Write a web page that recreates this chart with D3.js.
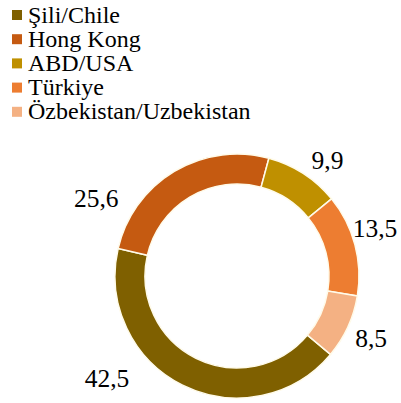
<!DOCTYPE html>
<html lang="tr">
<head>
<meta charset="utf-8"/>
<title>Donut</title>
<script src="https://d3js.org/d3.v7.min.js"></script>
<style>
  body { margin: 0; background: #fff; }
  text { font-family: "Liberation Serif", "Times New Roman", serif; fill: #000; }
</style>
</head>
<body>
<svg id="chart" width="401" height="403"></svg>
<script>
// data
var countries = ["Şili/Chile", "Hong Kong", "ABD/USA", "Türkiye", "Özbekistan/Uzbekistan"];
var shares = [42.5, 25.6, 9.9, 13.5, 8.5];
var colors = ["#7f6000", "#c55a11", "#bf9000", "#ed7d31", "#f4b183"];

// label placement (degrees clockwise from top, radius) - labels were dragged in the original
var labelAngle = [232, 299, 38, 71, 115];
var labelRadius = [165, 161, 147, 146, 148];

var svg = d3.select("#chart");
var cx = 237, cy = 276, outerR = 122, innerR = 92;

var pie = d3.pie().sort(null)
    .startAngle(130 * Math.PI / 180)
    .endAngle(490 * Math.PI / 180);
var arc = d3.arc().innerRadius(innerR).outerRadius(outerR);

var g = svg.append("g").attr("transform", "translate(" + cx + "," + cy + ")");

var arcs = pie(shares);
g.selectAll("path")
  .data(arcs)
  .enter().append("path")
    .attr("d", arc)
    .attr("fill", function(d, i) { return colors[i]; })
    .attr("stroke", "#fffbea")
    .attr("stroke-width", 1.5);

var fmt = function(v) { return d3.format(".1f")(v).replace(".", ","); };

g.selectAll("text.lbl")
  .data(arcs)
  .enter().append("text")
    .attr("class", "lbl")
    .attr("x", function(d, i) { return labelRadius[i] * Math.sin(labelAngle[i] * Math.PI / 180); })
    .attr("y", function(d, i) { return -labelRadius[i] * Math.cos(labelAngle[i] * Math.PI / 180); })
    .attr("dy", "0.35em")
    .attr("text-anchor", "middle")
    .attr("font-size", 25.5)
    .text(function(d) { return fmt(d.data); });

// legend
var legend = svg.append("g")
  .selectAll("g")
  .data(countries)
  .enter().append("g")
    .attr("transform", function(d, i) { return "translate(0," + (15 + i * 24.2) + ")"; });

legend.append("rect")
    .attr("x", 12)
    .attr("y", -5)
    .attr("width", 10)
    .attr("height", 10)
    .attr("fill", function(d, i) { return colors[i]; });

legend.append("text")
    .attr("x", 28)
    .attr("y", 7.5)
    .attr("font-size", 24)
    .text(function(d) { return d; });
</script>
</body>
</html>
